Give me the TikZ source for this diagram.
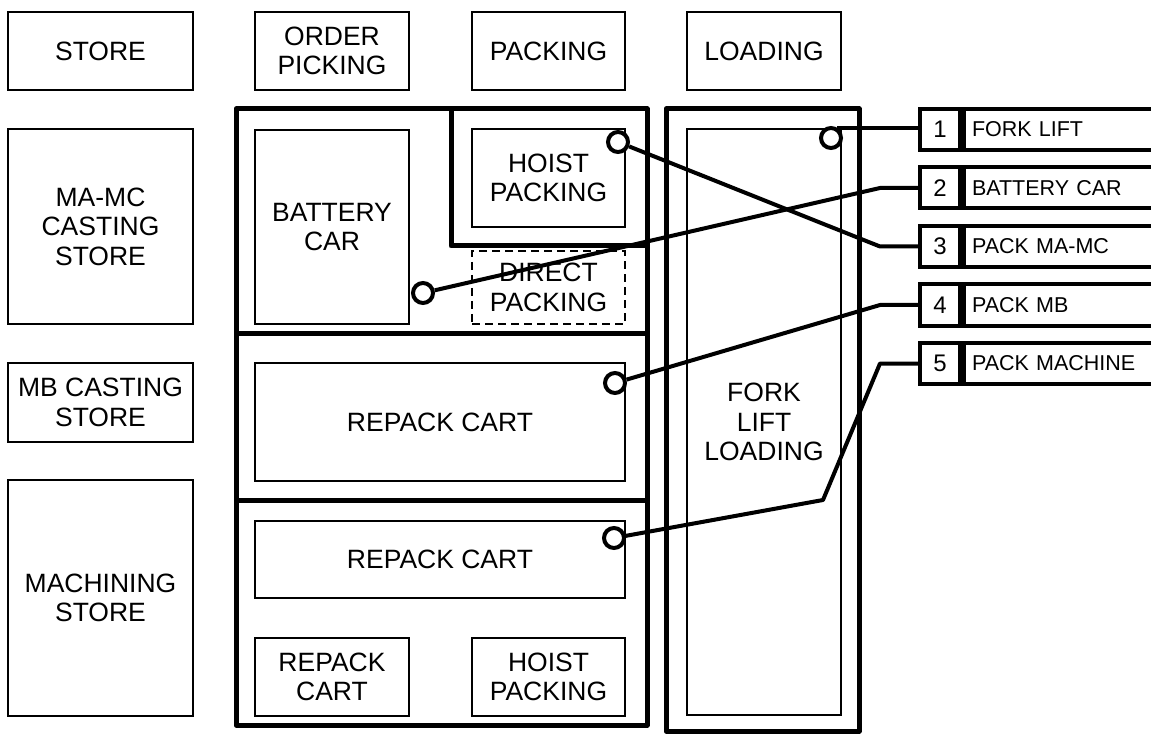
\documentclass[tikz,border=0pt]{standalone}
\usepackage{fontspec}
\setmainfont{Liberation Sans}
\usepackage{tikz}

\begin{document}
\begin{tikzpicture}[x=1pt,y=-1pt,
        area/.style={draw,line width=1.3pt,align=center,inner sep=0pt,font=\fontsize{26.5}{29.5}\selectfont},
        wall/.style={line width=5pt,line join=round},
        joint/.style={circle,draw,fill=white,line width=4pt,minimum size=20pt,inner sep=0pt},
        link/.style={line width=4pt,line join=round},
        numbox/.style={draw,line width=4pt,minimum width=40pt,minimum height=41pt,inner sep=0pt,font=\fontsize{24}{28}\selectfont},
        keybox/.style={draw,line width=4pt,minimum height=41pt,text width=184pt,inner xsep=8pt,inner ysep=0pt,align=left,anchor=west,font=\fontsize{21.5}{25}\selectfont}]
        \useasboundingbox (0,0) rectangle (1151,735);
        \draw[wall] (236,109) rectangle (647,333);
        \draw[wall] (236,333) rectangle (647,500);
        \draw[wall] (236,500) rectangle (647,725);
        \draw[wall] (451,109) -- (451,246) -- (647,246);
        \draw[wall] (666,109) rectangle (859,731);
        \node[area,minimum width=185pt,minimum height=78pt] (store) at (100.5,51) {STORE};
        \node[area,minimum width=154pt,minimum height=78pt] (picking) at (332,51) {ORDER\\PICKING};
        \node[area,minimum width=153pt,minimum height=78pt] (packing) at (548.5,51) {PACKING};
        \node[area,minimum width=154pt,minimum height=78pt] (loading) at (764,51) {LOADING};
        \node[area,minimum width=185pt,minimum height=195pt] (mamc) at (100.5,226.5) {MA-MC\\CASTING\\STORE};
        \node[area,minimum width=185pt,minimum height=79pt] (mb) at (100.5,402.5) {MB CASTING\\STORE};
        \node[area,minimum width=185pt,minimum height=236pt] (machining) at (100.5,598) {MACHINING\\STORE};
        \node[area,minimum width=154pt,minimum height=194pt] (battery) at (332,227) {BATTERY\\CAR};
        \node[area,minimum width=153pt,minimum height=98pt] (hoistA) at (548.5,178) {HOIST\\PACKING};
        \node[area,dash pattern=on 8pt off 5pt,minimum width=153pt,minimum height=73pt] (direct) at (548.5,287.5) {DIRECT\\PACKING};
        \node[area,minimum width=370pt,minimum height=118pt] (repackA) at (440,422) {REPACK CART};
        \node[area,minimum width=370pt,minimum height=77pt] (repackB) at (440,559.5) {REPACK CART};
        \node[area,minimum width=154pt,minimum height=78pt] (repackC) at (332,677) {REPACK\\CART};
        \node[area,minimum width=153pt,minimum height=78pt] (hoistB) at (548.5,677) {HOIST\\PACKING};
        \node[area,minimum width=154pt,minimum height=586pt] (forklift) at (764,422) {FORK\\LIFT\\LOADING};
        \foreach \i/\txt in {1/FORK LIFT,2/BATTERY CAR,3/PACK MA-MC,4/PACK MB,5/PACK MACHINE} {
            \node[numbox] (n\i) at (940,{129.5+58.5*(\i-1)}) {\i};
            \node[keybox] (k\i) at (n\i.east) {\txt};
        }
        \node[joint] (c1) at (831,138) {};
        \node[joint] (c2) at (423,293) {};
        \node[joint] (c3) at (618,142) {};
        \node[joint] (c4) at (615,383) {};
        \node[joint] (c5) at (614,538) {};
        \coordinate (b2) at (880,188);
        \coordinate (b3) at (880,246.5);
        \coordinate (b4) at (880,305);
        \coordinate (b5a) at (823,500);
        \coordinate (b5) at (880,363.5);
        \draw[link] (c1.60) -- (c1.60 -| n1.west);
        \draw[link] (c2) -- (b2) -- (n2.west);
        \draw[link] (c3) -- (b3) -- (n3.west);
        \draw[link] (c4) -- (b4) -- (n4.west);
        \draw[link] (c5) -- (b5a) -- (b5) -- (n5.west);
    \end{tikzpicture}
\end{document}
